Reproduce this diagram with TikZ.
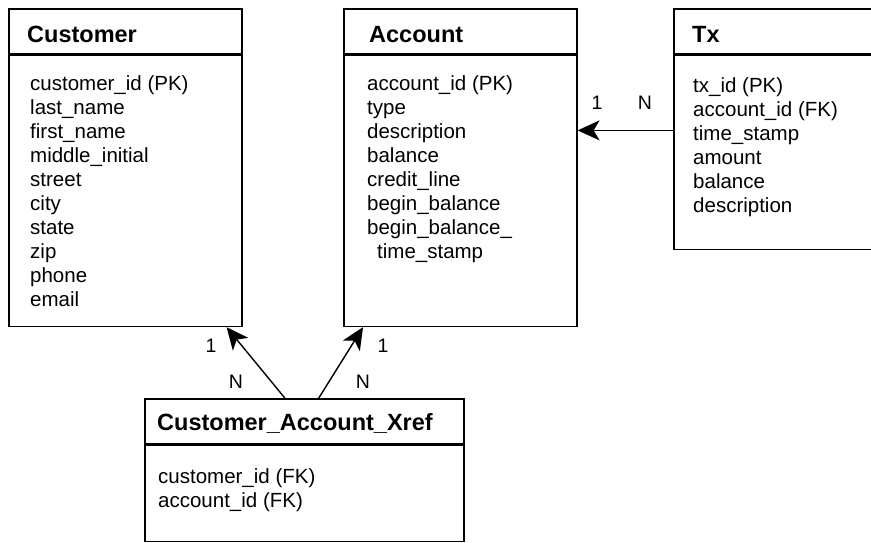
\documentclass[tikz,border=0pt]{standalone}
\usepackage{fontspec}
\setmainfont{Liberation Sans}
\usetikzlibrary{positioning,arrows.meta}

\tikzset{
  tablehead/.style={draw, line width=1.6pt, fill=white, minimum height=45pt, anchor=north west, inner sep=0pt},
  tablebody/.style={draw, line width=1.6pt, fill=white, inner sep=0pt},
  tabletitle/.style={anchor=west, inner sep=0pt, font=\fontsize{23.5}{28}\selectfont\bfseries},
  fieldlist/.style={anchor=north west, align=left, inner sep=0pt, font=\fontsize{20.5}{24}\selectfont},
  card/.style={inner sep=0pt, font=\fontsize{19.5}{22}\selectfont},
  relation/.style={line width=1.4pt, -{Stealth[length=22pt,width=20pt,inset=6pt]}}
}

\begin{document}
\begin{tikzpicture}[x=1pt, y=-1pt]
  \useasboundingbox (0,0) rectangle (871,543);
  \clip (0,0) rectangle (871,543);

  % Customer
  \node[tablehead, minimum width=233pt] (custh) at (8,8) {};
  \node[tablebody, minimum width=233pt, minimum height=271pt, below=0pt of custh] (custb) {};
  \node[tabletitle, right=19pt of custh.west, yshift=-3pt] (custt) {Customer};
  \node[fieldlist, below right=21pt and 22pt of custb.north west] (custf) {customer\_id (PK)\\last\_name\\first\_name\\middle\_initial\\street\\city\\state\\zip\\phone\\email};

  % Account
  \node[tablehead, minimum width=233pt] (accth) at (343,8) {};
  \node[tablebody, minimum width=233pt, minimum height=271pt, below=0pt of accth] (acctb) {};
  \node[tabletitle, right=26pt of accth.west, yshift=-3pt] (acctt) {Account};
  \node[fieldlist, below right=21pt and 24pt of acctb.north west] (acctf) {account\_id (PK)\\type\\description\\balance\\credit\_line\\begin\_balance\\begin\_balance\_\\\hspace*{10pt}time\_stamp};

  % Tx (runs off the right edge)
  \node[tablehead, minimum width=220pt] (txh) at (673,8) {};
  \node[tablebody, minimum width=220pt, minimum height=194pt, below=0pt of txh] (txb) {};
  \node[tabletitle, right=19pt of txh.west, yshift=-3pt] (txt) {Tx};
  \node[fieldlist, below right=23pt and 20pt of txb.north west] (txf) {tx\_id (PK)\\account\_id (FK)\\time\_stamp\\amount\\balance\\description};

  % cross reference
  \node[tablehead, minimum width=319pt] (xrefh) at (144,398) {};
  \node[tablebody, minimum width=319pt, minimum height=96pt, below=0pt of xrefh] (xrefb) {};
  \node[tabletitle, right=13pt of xrefh.west, yshift=-2pt] (xreft) {Customer\_Account\_Xref};
  \node[fieldlist, below right=24pt and 14pt of xrefb.north west] (xreff) {customer\_id (FK)\\account\_id (FK)};

  % relations
  \draw[relation] ([xshift=-19.5pt]xrefh.north) -- ([xshift=-16pt]custb.south east);
  \draw[relation] ([xshift=14.5pt]xrefh.north) -- ([xshift=20pt]acctb.south west);
  \draw[relation] ([yshift=22pt]txb.west) -- ([yshift=22pt]txb.west -| acctb.east);

  % cardinalities
  \node[card] (cust1) at (211,346) {1};
  \node[card] (custn) at (236,382) {N};
  \node[card] (acct1) at (383,346) {1};
  \node[card] (acctn) at (363,382) {N};
  \node[card] (tx1) at (597,103) {1};
  \node[card] (txn) at (645,103) {N};
\end{tikzpicture}
\end{document}
